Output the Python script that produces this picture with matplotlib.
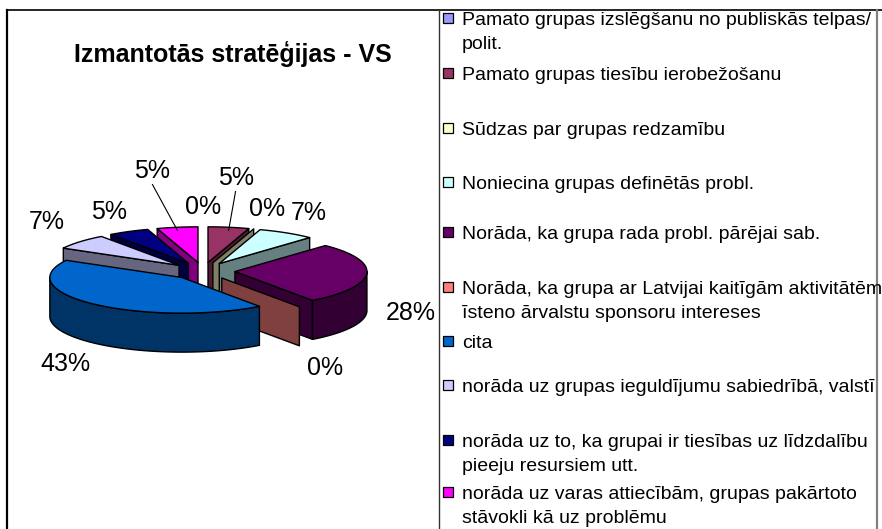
import numpy as np
import matplotlib.pyplot as plt
import matplotlib.colors as mcolors
from matplotlib.patches import Polygon, Rectangle

plt.rcParams['font.family'] = ['Liberation Sans', 'DejaVu Sans']

title = 'Izmantotās stratēģijas - VS'
categories = [
    'Pamato grupas izslēgšanu no publiskās telpas/\npolit.',
    'Pamato grupas tiesību ierobežošanu',
    'Sūdzas par grupas redzamību',
    'Noniecina grupas definētās probl.',
    'Norāda, ka grupa rada probl. pārējai sab.',
    'Norāda, ka grupa ar Latvijai kaitīgām aktivitātēm\nīsteno ārvalstu sponsoru intereses',
    'cita',
    'norāda uz grupas ieguldījumu sabiedrībā, valstī',
    'norāda uz to, ka grupai ir tiesības uz līdzdalību\npieeju resursiem utt.',
    'norāda uz varas attiecībām, grupas pakārtoto\nstāvokli kā uz problēmu',
]
shares = [0, 5, 0, 7, 28, 0, 43, 7, 5, 5]
colors = ['#9999FF', '#993366', '#FFFFCC', '#CCFFFF', '#660066',
          '#FF8080', '#0066CC', '#CCCCFF', '#000080', '#FF00FF']

W, H = 882, 529
fig = plt.figure(figsize=(W / 100, H / 100), dpi=100)
ax = fig.add_axes([0, 0, 1, 1])
ax.set_xlim(0, W)
ax.set_ylim(H, 0)
ax.axis('off')

# pie geometry in pixels (orthographic tilted view)
cx, cy = 203, 271
R, tilt, depth, explode = 132, 0.27, 39, 32


def scr(px, py, z=0.0):
    return (cx + px, cy - py * tilt + z)


def shade(c):
    r, g, b = mcolors.to_rgb(c)
    return (r * 0.5, g * 0.5, b * 0.5)


def poly(pts, fc):
    ax.add_patch(Polygon(pts, closed=True, facecolor=fc, edgecolor='black',
                         lw=1.0, joinstyle='round'))


edges = np.concatenate([[0], np.cumsum(shares)]) / float(sum(shares)) * 360.0


def front_key(i):
    a0, a1 = edges[i], edges[i + 1]
    if a0 <= 180 <= a1:
        return (0, 0)
    d = sorted([abs(a0 - 180), abs(a1 - 180)])
    return (d[0], d[1])


def radial_wall(ox, oy, a, fc):
    t = np.radians(a)
    tx, ty = ox + R * np.sin(t), oy + R * np.cos(t)
    pts = [scr(ox, oy), scr(tx, ty), scr(tx, ty, depth), scr(ox, oy, depth)]
    poly(pts, fc)


order = sorted(range(len(shares)), key=front_key, reverse=True)
for i in order:
    a0, a1 = edges[i], edges[i + 1]
    mid = np.radians((a0 + a1) / 2)
    ox, oy = explode * np.sin(mid), explode * np.cos(mid)
    top, side = colors[i], shade(colors[i])

    # radial walls facing the viewer
    if np.sin(np.radians(a0)) < -1e-9:
        radial_wall(ox, oy, a0, side)
    if np.sin(np.radians(a1)) > 1e-9:
        radial_wall(ox, oy, a1, side)

    # outer curved wall (front half only)
    lo, hi = max(a0, 90), min(a1, 270)
    if hi > lo:
        th = np.radians(np.linspace(lo, hi, 80))
        xs, ys = ox + R * np.sin(th), oy + R * np.cos(th)
        pts = [scr(x, y) for x, y in zip(xs, ys)]
        pts += [scr(x, y, depth) for x, y in zip(xs[::-1], ys[::-1])]
        poly(pts, side)

    # top face
    if a1 > a0:
        th = np.radians(np.linspace(a0, a1, max(3, int(a1 - a0) + 2)))
        pts = [scr(ox, oy)] + [scr(ox + R * np.sin(t), oy + R * np.cos(t)) for t in th]
        poly(pts, top)

# percentage labels
moved = {1: (0, -30), 9: (-18, -37)}
for i, v in enumerate(shares):
    mid = np.radians((edges[i] + edges[i + 1]) / 2)
    c = np.cos(mid)
    lx = cx + 208 * np.sin(mid)
    ly = cy - 44 * c - 20 if c >= 0 else cy - 74 * c + 37
    if i in moved:
        dx, dy = moved[i]
        lx, ly = lx + dx, ly + dy
        ox, oy = explode * np.sin(mid), explode * np.cos(mid)
        ex, ey = scr(ox + R * np.sin(mid), oy + R * np.cos(mid))
        ax.plot([lx, ex], [ly + 14, ey + 3], color='black', lw=0.8)
    ax.text(lx, ly, f'{v}%', ha='center', va='center', fontsize=18)

ax.text(233, 54, title, ha='center', va='center', fontsize=18, fontweight='bold')

# chart frame and legend box
ax.plot([7, 7], [H, 10], color='black', lw=1.6)
ax.plot([7, W], [10, 10], color='black', lw=1.2)
ax.plot([439, 439], [10, H], color='#333333', lw=1.0)
ax.plot([877, 877], [10, H], color='#808080', lw=1.6)

baselines = [25, 80, 135, 189, 239, 294, 348, 392, 447, 499]
for name, col, b in zip(categories, colors, baselines):
    ax.add_patch(Rectangle((443, b - 12), 10, 10, facecolor=col,
                           edgecolor='black', lw=0.9))
    for k, line in enumerate(name.split('\n')):
        ax.text(462, b + 24 * k, line, ha='left', va='baseline', fontsize=14)

fig.savefig('out.png', dpi=100)
